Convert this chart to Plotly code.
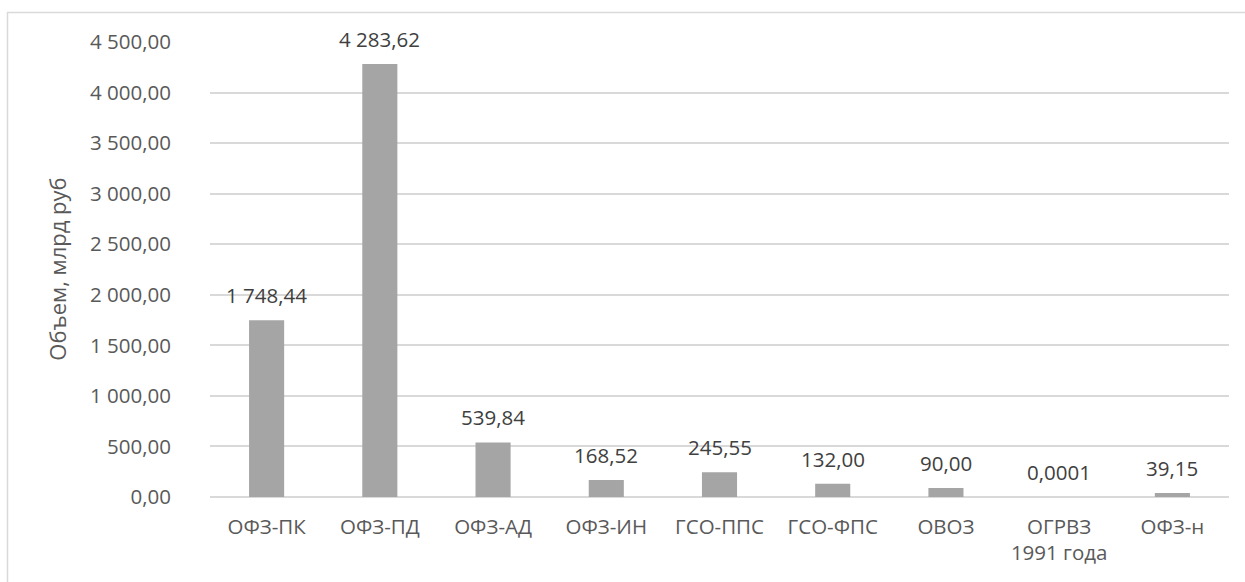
import plotly.graph_objects as go

# Government securities outstanding by type, bn RUB
categories = ["ОФЗ-ПК", "ОФЗ-ПД", "ОФЗ-АД", "ОФЗ-ИН", "ГСО-ППС", "ГСО-ФПС", "ОВОЗ", "ОГРВЗ<br>1991 года", "ОФЗ-н"]
volumes = [1748.44, 4283.62, 539.84, 168.52, 245.55, 132.00, 90.00, 0.0001, 39.15]
y_ticks = [0, 500, 1000, 1500, 2000, 2500, 3000, 3500, 4000, 4500]

FONT = "Open Sans"
TICK_COLOR = "#595959"
LABEL_COLOR = "#404040"
GRID = "#d9d9d9"
SIZE = 20.5


def fmt_value(v):
    digits = 2 if v >= 0.01 else 4
    s = f"{v:,.{digits}f}"
    return s.replace(",", " ").replace(".", ",")


fig = go.Figure()
fig.add_trace(go.Bar(
    x=categories,
    y=volumes,
    marker=dict(color="#a5a5a5", line=dict(width=0)),
    hoverinfo="skip",
))

# value labels above the bars
for c, v in zip(categories, volumes):
    fig.add_annotation(
        x=c, y=v, text=fmt_value(v), showarrow=False,
        xref="x", yref="y", yanchor="middle", yshift=25,
        font=dict(family=FONT, size=SIZE, color=LABEL_COLOR),
    )

# y-axis title
fig.add_annotation(
    x=-0.151, y=0.5, xref="paper", yref="paper", text="Объем, млрд руб",
    textangle=-90, showarrow=False, xanchor="center", yanchor="middle",
    font=dict(family=FONT, size=22, color=TICK_COLOR),
)

# chart frame
fig.add_shape(
    type="rect", xref="paper", yref="paper",
    x0=(7.5 - 210) / 1019, x1=1.05, y0=-0.3, y1=(497.3 - 13) / 454.8,
    line=dict(color=GRID, width=1.5), fillcolor="rgba(0,0,0,0)", layer="below",
)

fig.update_layout(
    width=1245, height=582,
    margin=dict(l=210, r=16, t=42, b=85),
    paper_bgcolor="white", plot_bgcolor="white",
    separators=", ",
    bargap=0.69,
    showlegend=False,
    font=dict(family=FONT, size=SIZE, color=TICK_COLOR),
    xaxis=dict(
        showgrid=False, showline=False, zeroline=False, ticks="",
        tickfont=dict(family=FONT, size=SIZE, color=TICK_COLOR),
        ticklabelstandoff=15,
    ),
    yaxis=dict(
        range=[0, 4500], tickvals=y_ticks, tickformat=",.2f",
        showgrid=True, gridcolor=GRID, gridwidth=1.5,
        zeroline=True, zerolinecolor=GRID, zerolinewidth=1.5,
        showline=False, ticks="",
        tickfont=dict(family=FONT, size=SIZE, color=TICK_COLOR),
        ticklabelstandoff=38,
    ),
)

fig.write_html("out.html")
